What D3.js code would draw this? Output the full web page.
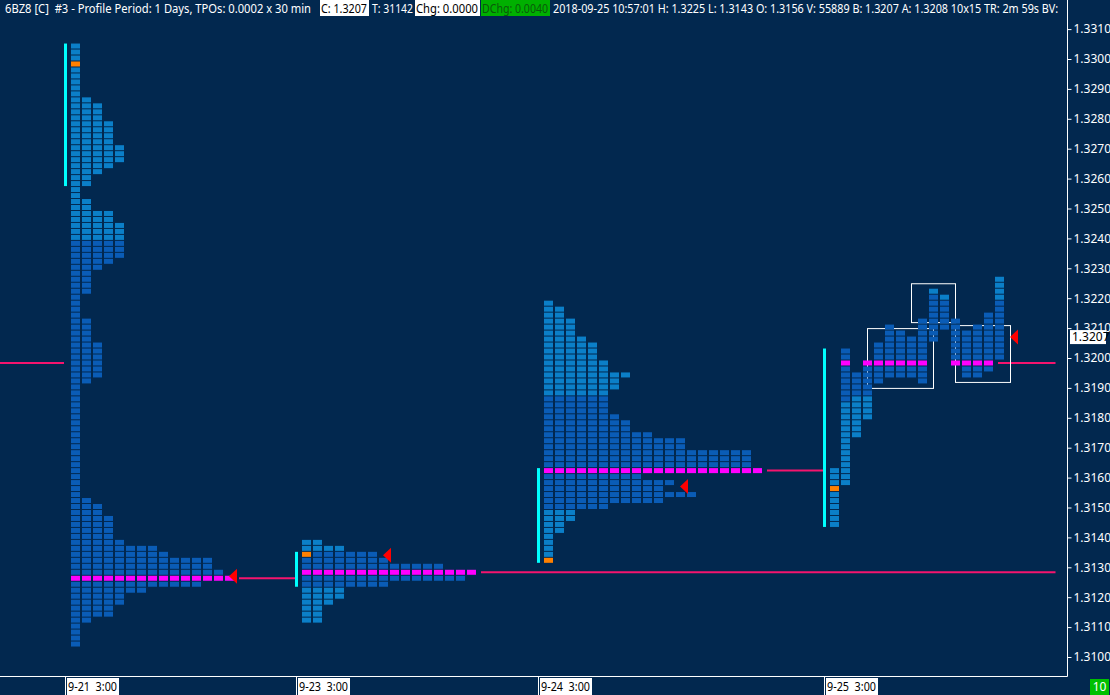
<!DOCTYPE html>
<html>
<head>
<meta charset="utf-8">
<script src="https://d3js.org/d3.v7.min.js"></script>
<style>
  body { margin: 0; background: #02284f; overflow: hidden; }
  text { font-family: "Segoe UI", "Noto Sans", "Open Sans", sans-serif; font-size: 12px; }
</style>
</head>
<body>
<div id="chart"></div>
<script>
// ---- data ----
const priceTicks = ["1.3100","1.3110","1.3120","1.3130","1.3140","1.3150","1.3160","1.3170","1.3180","1.3190","1.3200",
                    "1.3210","1.3220","1.3230","1.3240","1.3250","1.3260","1.3270","1.3280","1.3290","1.3300","1.3310"];
const lastPrice = 1.3207;

const headerText = ["6BZ8 [C]  #3 - Profile Period: 1 Days, TPOs: 0.0002 x 30 min", "C: 1.3207", "T: 31142",
                    "Chg: 0.0000", "DChg: 0.0040",
                    "2018-09-25 10:57:01 H: 1.3225 L: 1.3143 O: 1.3156 V: 55889 B: 1.3207 A: 1.3208 10x15 TR: 2m 59s BV: "];

// one profile per day, column slot where each starts (30 min columns)
const profileSlot = [0, 21, 43, 69];
const profileDate = ["9-21  3:00", "9-23  3:00", "9-24  3:00", "9-25  3:00"];

// collapsed profiles: TPO count per price row from the top price down, 0.0002 per row
const profileTop = [1.3304, 1.3138, 1.3218];
const p1Counts = [1,1,1,1,1,1,1,1,1, 2, 3,3,3, 4,4,4,4, 5,5,5, 4, 3, 2,2, 1,1, 2,2, 4,4, 5,5,5,5,5,5, 4, 3,
                  2,2,2,2, 1,1,1,1, 2,2,2,2, 3,3,3,3,3,3, 2, 1,
                  1,1,1,1,1,1,1,1,1,1,1,1,1,1,1,1,1,1,
                  2,3,3,4,4,4,4,5,8,9,13,13,14,15,12,7,5,5,4,4,2,1,1,1,1];
const p2Counts = [2,4,7,8,13,16,15,8,4,4,3,2,2,2];
const p3Counts = [1,2,2,3,3,3,4,5,5,5,6,6,8,7,7,6,6,6,6,7,8,8,10,13,13,19,19,19,20,
                  9,12,11,14,11,6,3,3,2,2,1,1,1,1,1];
// darker TPO periods (price range) for collapsed profiles
const darkHigh = [1.3238, 1.3134, 1.3186];
const darkLow  = [1.3104, 1.3124, 1.3150];

// last day, one column per 30 min period
const p4High = [1.3162,1.3202,1.3194,1.3198,1.3204,1.3210,1.3208,1.3206,1.3212,1.3222,1.3220,1.3212,1.3208,1.3210,1.3214,1.3226];
const p4Low  = [1.3144,1.3158,1.3174,1.3180,1.3192,1.3194,1.3194,1.3194,1.3192,1.3206,1.3210,1.3198,1.3194,1.3194,1.3196,1.3200];
const p4LightBelow = [1.3162,1.3184,1.3186,1.3186,null,null,null,null,null,null,null,null,null,null,null,null];
const p4LightAbove = [null,null,null,null,null,null,null,null,null,1.3222,1.3220,null,null,null,null,1.3220];

const pocPrice   = [1.3126, 1.3128, 1.3162, 1.3198];
const prevPoc    = 1.3198;
const openPrice  = [1.3298, 1.3134, 1.3132, 1.3156];
const closePrice = [1.3127, 1.3134, 1.3157, 1.3207];
const closeCol   = [14, 7, 12, 16];
const ibHigh = [1.3304, 1.3134, 1.3162, 1.3202];
const ibLow  = [1.3258, 1.3124, 1.3132, 1.3144];
const pocNaked = [false, true, false, true];

// value boxes on the last day (column from/to, price high/low)
const boxColFrom = [3, 7, 11];
const boxColTo   = [9, 11, 16];
const boxHigh = [1.3210, 1.3225, 1.3211];
const boxLow  = [1.3190, 1.3212, 1.3192];

// ---- drawing ----
const W = 1110, H = 695;
const BG = "#02284f", LIGHT = "#0b7fc8", DARK = "#0a5cb6", MAG = "#ff00ff", ORANGE = "#ff8000",
      CYAN = "#00ffff", POCLINE = "#f5146e", AXIS = "#ffffff";
const toT = p => Math.round(p * 5000);

const y = d3.scaleLinear().domain([1.3100, 1.3310]).range([657, 29.1]);
const x = d3.scaleLinear().domain([0, 90]).range([71, 1061]);
const axisX = 1067, axisY = 676.5;

const svg = d3.select("#chart").append("svg").attr("width", W).attr("height", H);
svg.append("rect").attr("width", W).attr("height", H).attr("fill", BG);

// build cells
const cells = [];
[p1Counts, p2Counts, p3Counts].forEach((counts, i) => {
  const top = toT(profileTop[i]);
  counts.forEach((n, r) => {
    const t = top - r;
    for (let c = 0; c < n; c++) {
      let fill = (t <= toT(darkHigh[i]) && t >= toT(darkLow[i])) ? DARK : LIGHT;
      if (t === toT(pocPrice[i])) fill = MAG;
      if (c === 0 && t === toT(openPrice[i])) fill = ORANGE;
      cells.push({ x: x(profileSlot[i] + c), t: t, fill: fill });
    }
  });
});
p4High.forEach((hi, c) => {
  for (let t = toT(hi); t >= toT(p4Low[c]); t--) {
    let fill = DARK;
    if (p4LightBelow[c] != null && t <= toT(p4LightBelow[c])) fill = LIGHT;
    if (p4LightAbove[c] != null && t >= toT(p4LightAbove[c])) fill = LIGHT;
    if (t === toT(pocPrice[3])) fill = MAG;
    if (c === 0 && t === toT(openPrice[3])) fill = ORANGE;
    cells.push({ x: x(profileSlot[3] + c), t: t, fill: fill });
  }
});

// POC extension lines
const pocLines = [{ p: prevPoc, x0: 0, x1: x(profileSlot[0]) - 7 }];
pocPrice.forEach((p, i) => {
  const lastCol = i < 3
    ? [p1Counts, p2Counts, p3Counts][i][toT(profileTop[i]) - toT(p)]
    : d3.max(p4High.map((h, c) => (toT(h) >= toT(p) && toT(p4Low[c]) <= toT(p)) ? c + 1 : 0));
  const x0 = x(profileSlot[i] + lastCol) + 3;
  const x1 = pocNaked[i] ? x(89.5) : x(profileSlot[i + 1]) - 7;
  pocLines.push({ p: p, x0: x0, x1: x1 });
});
svg.selectAll("line.poc").data(pocLines).enter().append("line")
  .attr("x1", d => d.x0).attr("x2", d => d.x1)
  .attr("y1", d => y(d.p) - 1).attr("y2", d => y(d.p) - 1)
  .attr("stroke", POCLINE).attr("stroke-width", 2);

// boxes
svg.selectAll("rect.box").data(boxHigh).enter().append("rect")
  .attr("x", (d, i) => x(profileSlot[3] + boxColFrom[i]) + 4.5)
  .attr("y", d => y(d) + 0.5)
  .attr("width", (d, i) => x(boxColTo[i]) - x(boxColFrom[i]))
  .attr("height", (d, i) => y(boxLow[i]) - y(d))
  .attr("fill", "none").attr("stroke", "#ffffff").attr("stroke-width", 1);

// TPO cells
svg.selectAll("rect.cell").data(cells).enter().append("rect")
  .attr("x", d => d.x).attr("y", d => y(d.t / 5000) - 3.5)
  .attr("width", 9).attr("height", 5).attr("fill", d => d.fill);

// initial balance bars
svg.selectAll("rect.ib").data(ibHigh).enter().append("rect")
  .attr("x", (d, i) => x(profileSlot[i]) - 7).attr("width", 3)
  .attr("y", d => y(d) - 3.5)
  .attr("height", (d, i) => y(ibLow[i]) - y(d) + 5)
  .attr("fill", CYAN);

// close arrows
svg.selectAll("path.close").data(closePrice).enter().append("path")
  .attr("d", (d, i) => {
    const tx = x(profileSlot[i] + closeCol[i]) + 4, ty = y(d);
    return `M${tx},${ty} L${tx + 8},${ty - 7.5} L${tx + 8},${ty + 7.5} Z`;
  })
  .attr("fill", "#ff0000");

// right price axis
svg.append("line").attr("x1", axisX + 0.5).attr("x2", axisX + 0.5).attr("y1", 0).attr("y2", axisY)
  .attr("stroke", AXIS);
svg.append("line").attr("x1", 0).attr("x2", axisX + 0.5).attr("y1", axisY).attr("y2", axisY)
  .attr("stroke", AXIS);
const yAxis = d3.axisRight(y).tickValues(priceTicks.map(Number)).tickSize(4).tickPadding(2)
  .tickFormat((d, i) => priceTicks[i]);
const ya = svg.append("g").attr("transform", `translate(${axisX + 0.5},0)`).call(yAxis);
ya.select(".domain").remove();
ya.selectAll("line").attr("stroke", AXIS);
ya.selectAll("text").attr("fill", "#ffffff").style("font-size", "12px")
  .style("font-family", '"Segoe UI","Noto Sans",sans-serif');

// last price box
const lp = svg.append("g");
lp.append("rect").attr("x", 1070).attr("y", y(lastPrice) - 7).attr("width", 36).attr("height", 14).attr("fill", "#ffffff");
lp.append("text").attr("x", 1072).attr("y", y(lastPrice)).attr("dy", "0.35em").attr("fill", "#000").text(lastPrice.toFixed(4));

// date labels along bottom
const dg = svg.selectAll("g.date").data(profileDate).enter().append("g")
  .attr("transform", (d, i) => `translate(${x(profileSlot[i]) - 6},0)`);
dg.append("line").attr("x1", 0.5).attr("x2", 0.5).attr("y1", axisY).attr("y2", H).attr("stroke", AXIS);
dg.append("rect").attr("x", 2).attr("y", 678).attr("width", 52).attr("height", 17).attr("fill", "#ffffff");
dg.append("text").attr("x", 3).attr("y", 691).attr("fill", "#000").style("white-space", "pre")
  .attr("textLength", 49).attr("lengthAdjust", "spacingAndGlyphs").text(d => d);

svg.append("rect").attr("x", 1090).attr("y", 679).attr("width", 19).attr("height", 16).attr("fill", "#00c000");
svg.append("text").attr("x", 1099.5).attr("y", 691).attr("text-anchor", "middle").attr("fill", "#ffffff").text("10");

// header line
const hx = [5, 321, 372, 416, 482, 553];
const hw = [306, 46, 41, 62, 66, 508];
const hbox = [null, "#ffffff", null, "#ffffff", "#00b000", null];
const hcol = ["#ffffff", "#000000", "#ffffff", "#000000", "#0a5a0a", "#ffffff"];
const hg = svg.append("g");
hg.selectAll("rect").data(hbox).enter().filter(d => d).append("rect");
headerText.forEach((t, i) => {
  if (hbox[i]) hg.append("rect").attr("x", hx[i] - 1).attr("y", 0).attr("width", hw[i] + 3).attr("height", 16).attr("fill", hbox[i]);
  hg.append("text").attr("x", hx[i]).attr("y", 12.5).attr("fill", hcol[i]).style("white-space", "pre")
    .attr("textLength", hw[i]).attr("lengthAdjust", "spacingAndGlyphs").text(t);
});
</script>
</body>
</html>
